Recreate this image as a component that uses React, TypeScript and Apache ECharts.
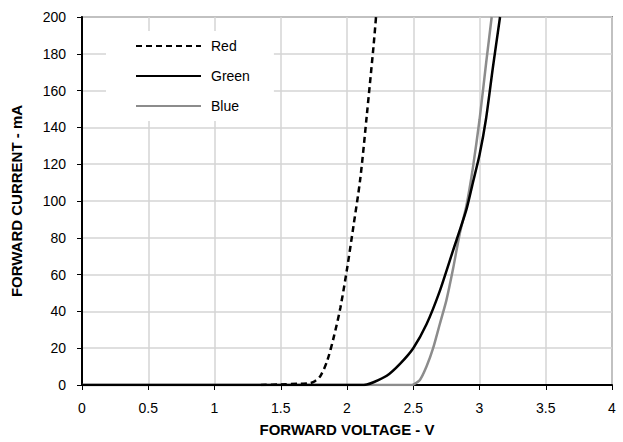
import React, { useEffect, useRef } from "react";
import * as echarts from "echarts";

const xTicks = [0, 0.5, 1, 1.5, 2, 2.5, 3, 3.5, 4];

const redV = [1.35, 1.5, 1.65, 1.72, 1.76, 1.8, 1.85, 1.9, 1.95, 2.0, 2.05, 2.1, 2.15, 2.2, 2.219];
const redI = [0, 0.3, 0.7, 1, 2.2, 5, 13, 26, 42, 63, 87, 112, 147, 184, 200];

const greenV = [0, 2.1, 2.15, 2.2, 2.3, 2.4, 2.5, 2.6, 2.7, 2.8, 2.9, 2.95, 3.0, 3.05, 3.1, 3.155];
const greenI = [0, 0, 0.3, 1.5, 5, 11.5, 20, 33, 51, 73, 95, 110, 125, 145, 172, 200];

const blueV = [0, 2.48, 2.5, 2.55, 2.6, 2.65, 2.7, 2.75, 2.8, 2.85, 2.9, 2.95, 3.0, 3.05, 3.092];
const blueI = [0, 0, 0.2, 2.7, 10, 20, 33, 46, 63, 82, 97, 118, 144, 175, 200];

const zip = (a: number[], b: number[]) => a.map((v, i) => [v, b[i]]);

export default function App() {
  const ref = useRef<HTMLDivElement>(null);
  useEffect(() => {
    if (!ref.current) return;
    const chart = echarts.init(ref.current, null, { renderer: "svg" });
    const font = "'Liberation Sans', Arial, sans-serif";
    chart.setOption({
      animation: false,
      textStyle: { fontFamily: font },
      grid: {
        left: 82, top: 17, right: 11, bottom: 57,
        show: true, borderColor: "#888888", borderWidth: 2, containLabel: false,
      },
      legend: {
        orient: "vertical",
        left: 106,
        top: 31,
        backgroundColor: "#ffffff",
        padding: [8, 24, 8, 29],
        itemWidth: 65,
        itemHeight: 14,
        itemGap: 16,
        itemStyle: { opacity: 0 },
        textStyle: { fontFamily: font, fontSize: 14, color: "#000", padding: [0, 0, 0, 5] },
        data: ["Red", "Green", "Blue"],
      },
      xAxis: {
        type: "value",
        min: 0,
        max: 4,
        interval: 0.5,
        name: "FORWARD VOLTAGE - V",
        nameLocation: "middle",
        nameGap: 37,
        nameTextStyle: { fontFamily: font, fontSize: 15, fontWeight: "bold", color: "#000" },
        axisLine: { show: true, lineStyle: { color: "#000", width: 2 } },
        axisTick: { show: true, length: 5, lineStyle: { color: "#000" } },
        axisLabel: { fontFamily: font, fontSize: 14, color: "#000", margin: 16, formatter: (v: number) => String(v) },
        splitLine: { show: true, lineStyle: { color: "#d4d4d4", width: 1.5 } },
      },
      yAxis: {
        type: "value",
        min: 0,
        max: 200,
        interval: 20,
        name: "FORWARD CURRENT - mA",
        nameLocation: "middle",
        nameGap: 58,
        nameTextStyle: { fontFamily: font, fontSize: 15, fontWeight: "bold", color: "#000" },
        axisLine: { show: true, lineStyle: { color: "#000", width: 2 } },
        axisTick: { show: true, length: 5, lineStyle: { color: "#000" } },
        axisLabel: { fontFamily: font, fontSize: 14, color: "#000", margin: 16 },
        splitLine: { show: true, lineStyle: { color: "#d4d4d4", width: 1.5 } },
      },
      series: [
        {
          name: "Blue",
          type: "line",
          data: zip(blueV, blueI),
          showSymbol: false,
          symbol: "none",
          smooth: 0.2,
          lineStyle: { color: "#8c8c8c", width: 2.5 },
          itemStyle: { color: "#8c8c8c" },
          z: 3,
        },
        {
          name: "Green",
          type: "line",
          data: zip(greenV, greenI),
          showSymbol: false,
          symbol: "none",
          smooth: 0.2,
          lineStyle: { color: "#000000", width: 2.5 },
          itemStyle: { color: "#000000" },
          z: 4,
        },
        {
          name: "Red",
          type: "line",
          data: zip(redV, redI),
          showSymbol: false,
          symbol: "none",
          smooth: 0.3,
          lineStyle: { color: "#000000", width: 2.5, type: [6, 4] },
          itemStyle: { color: "#000000" },
          z: 5,
        },
      ],
    });
    return () => chart.dispose();
  }, []);
  return <div ref={ref} style={{ width: 623, height: 442, position: "absolute", left: 0, top: 0 }} />;
}
